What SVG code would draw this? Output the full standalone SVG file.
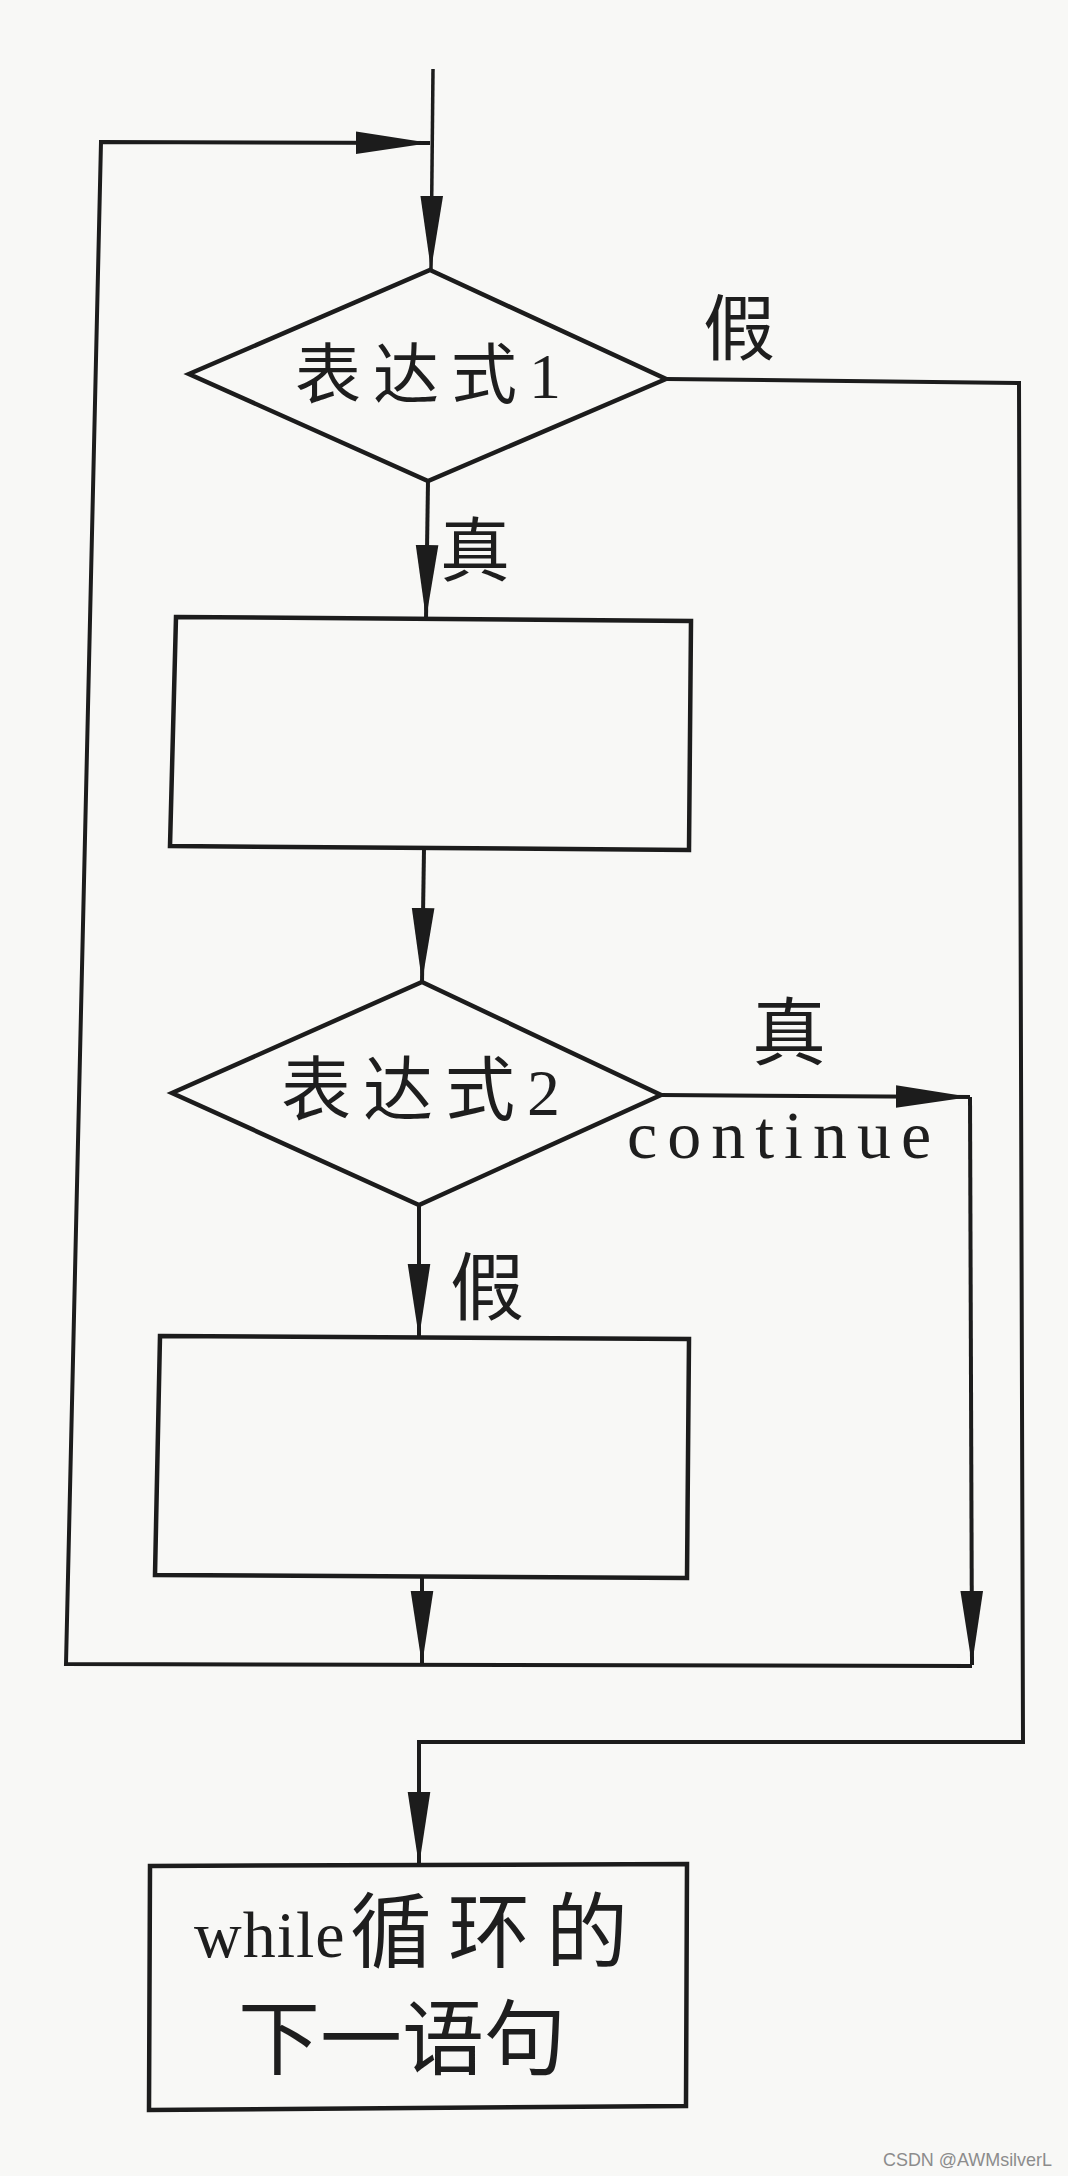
<svg xmlns="http://www.w3.org/2000/svg" width="1068" height="2176" viewBox="0 0 1068 2176">
  <defs>
    <marker id="arr" markerUnits="userSpaceOnUse" markerWidth="74" markerHeight="24" viewBox="0 0 72 22" refX="72" refY="11" orient="auto">
      <path d="M0,0 L72,11 L0,22 Z" fill="#1c1c1c"/>
    </marker>
    <style>
      .shape { fill: none; stroke: #1c1c1c; stroke-width: 4.5; stroke-linejoin: miter; }
      .conn { fill: none; stroke: #1c1c1c; stroke-width: 4; stroke-linejoin: miter; }
      .thin { stroke-width: 3.5; }
      .lbl { font-family: 'Liberation Serif', 'Noto Sans CJK SC', serif; fill: #1e1e1e; }
      .wm { font-family: 'Liberation Sans', Arial, sans-serif; fill: #8c8c8c; font-size: 19px; }
    </style>
  </defs>

  <rect x="0" y="0" width="1068" height="2176" fill="#f8f8f6"/>

  <g id="connectors">
    <path class="conn thin" d="M433 69 L431 270" marker-end="url(#arr)"/>
    <path class="conn" d="M428 481 L426 619" marker-end="url(#arr)"/>
    <path class="conn" d="M666 379 L1019 383 L1023 1742 L419 1742 L419 1866" marker-end="url(#arr)"/>
    <path class="conn" d="M424 849 L422 982" marker-end="url(#arr)"/>
    <path class="conn" d="M661 1095 L970 1097" marker-end="url(#arr)"/>
    <path class="conn" d="M970 1097 L972 1665" marker-end="url(#arr)"/>
    <path class="conn" d="M419 1205 L419 1338" marker-end="url(#arr)"/>
    <path class="conn" d="M422 1577 L422 1665" marker-end="url(#arr)"/>
    <path class="conn" d="M972 1666 L66 1664 L101 142 L430 143" marker-end="url(#arr)"/>
  </g>

  <g id="label-false-1">
    <text class="lbl" x="703" y="354" font-size="72">假</text>
  </g>
  <g id="label-true-1">
    <text class="lbl" x="440" y="576" font-size="70">真</text>
  </g>
  <g id="label-true-2">
    <text class="lbl" x="752" y="1059" font-size="74">真</text>
    <text class="lbl" x="627" y="1158" font-size="68" letter-spacing="10">continue</text>
  </g>
  <g id="label-false-2">
    <text class="lbl" x="450" y="1314" font-size="74">假</text>
  </g>

  <g id="decision-1">
    <polygon class="shape" points="430,270 666,379 428,481 189,374"/>
    <text class="lbl" x="295" y="398" font-size="66" letter-spacing="12" fill="#2e2e2e">表达式<tspan font-size="64" letter-spacing="0">1</tspan></text>
  </g>

  <g id="process-1">
    <polygon class="shape" points="176,617 691,621 689,850 170,846"/>
  </g>

  <g id="decision-2">
    <polygon class="shape" points="422,982 661,1095 419,1205 172,1093"/>
    <text class="lbl" x="281" y="1115" font-size="70" letter-spacing="12">表达式<tspan font-size="66" letter-spacing="0">2</tspan></text>
  </g>

  <g id="process-2">
    <polygon class="shape" points="160,1336 689,1339 687,1578 155,1575"/>
  </g>

  <g id="next-statement">
    <polygon class="shape" points="150,1866 687,1864 686,2106 149,2110"/>
    <text class="lbl"><tspan x="194" y="1957" font-size="66" letter-spacing="1">while</tspan><tspan x="350" y="1961" font-size="82" letter-spacing="16">循环的</tspan></text>
    <text class="lbl" x="238" y="2068" font-size="82">下一语句</text>
  </g>

  <text class="wm" x="883" y="2166" textLength="169" lengthAdjust="spacingAndGlyphs">CSDN @AWMsilverL</text>
</svg>
